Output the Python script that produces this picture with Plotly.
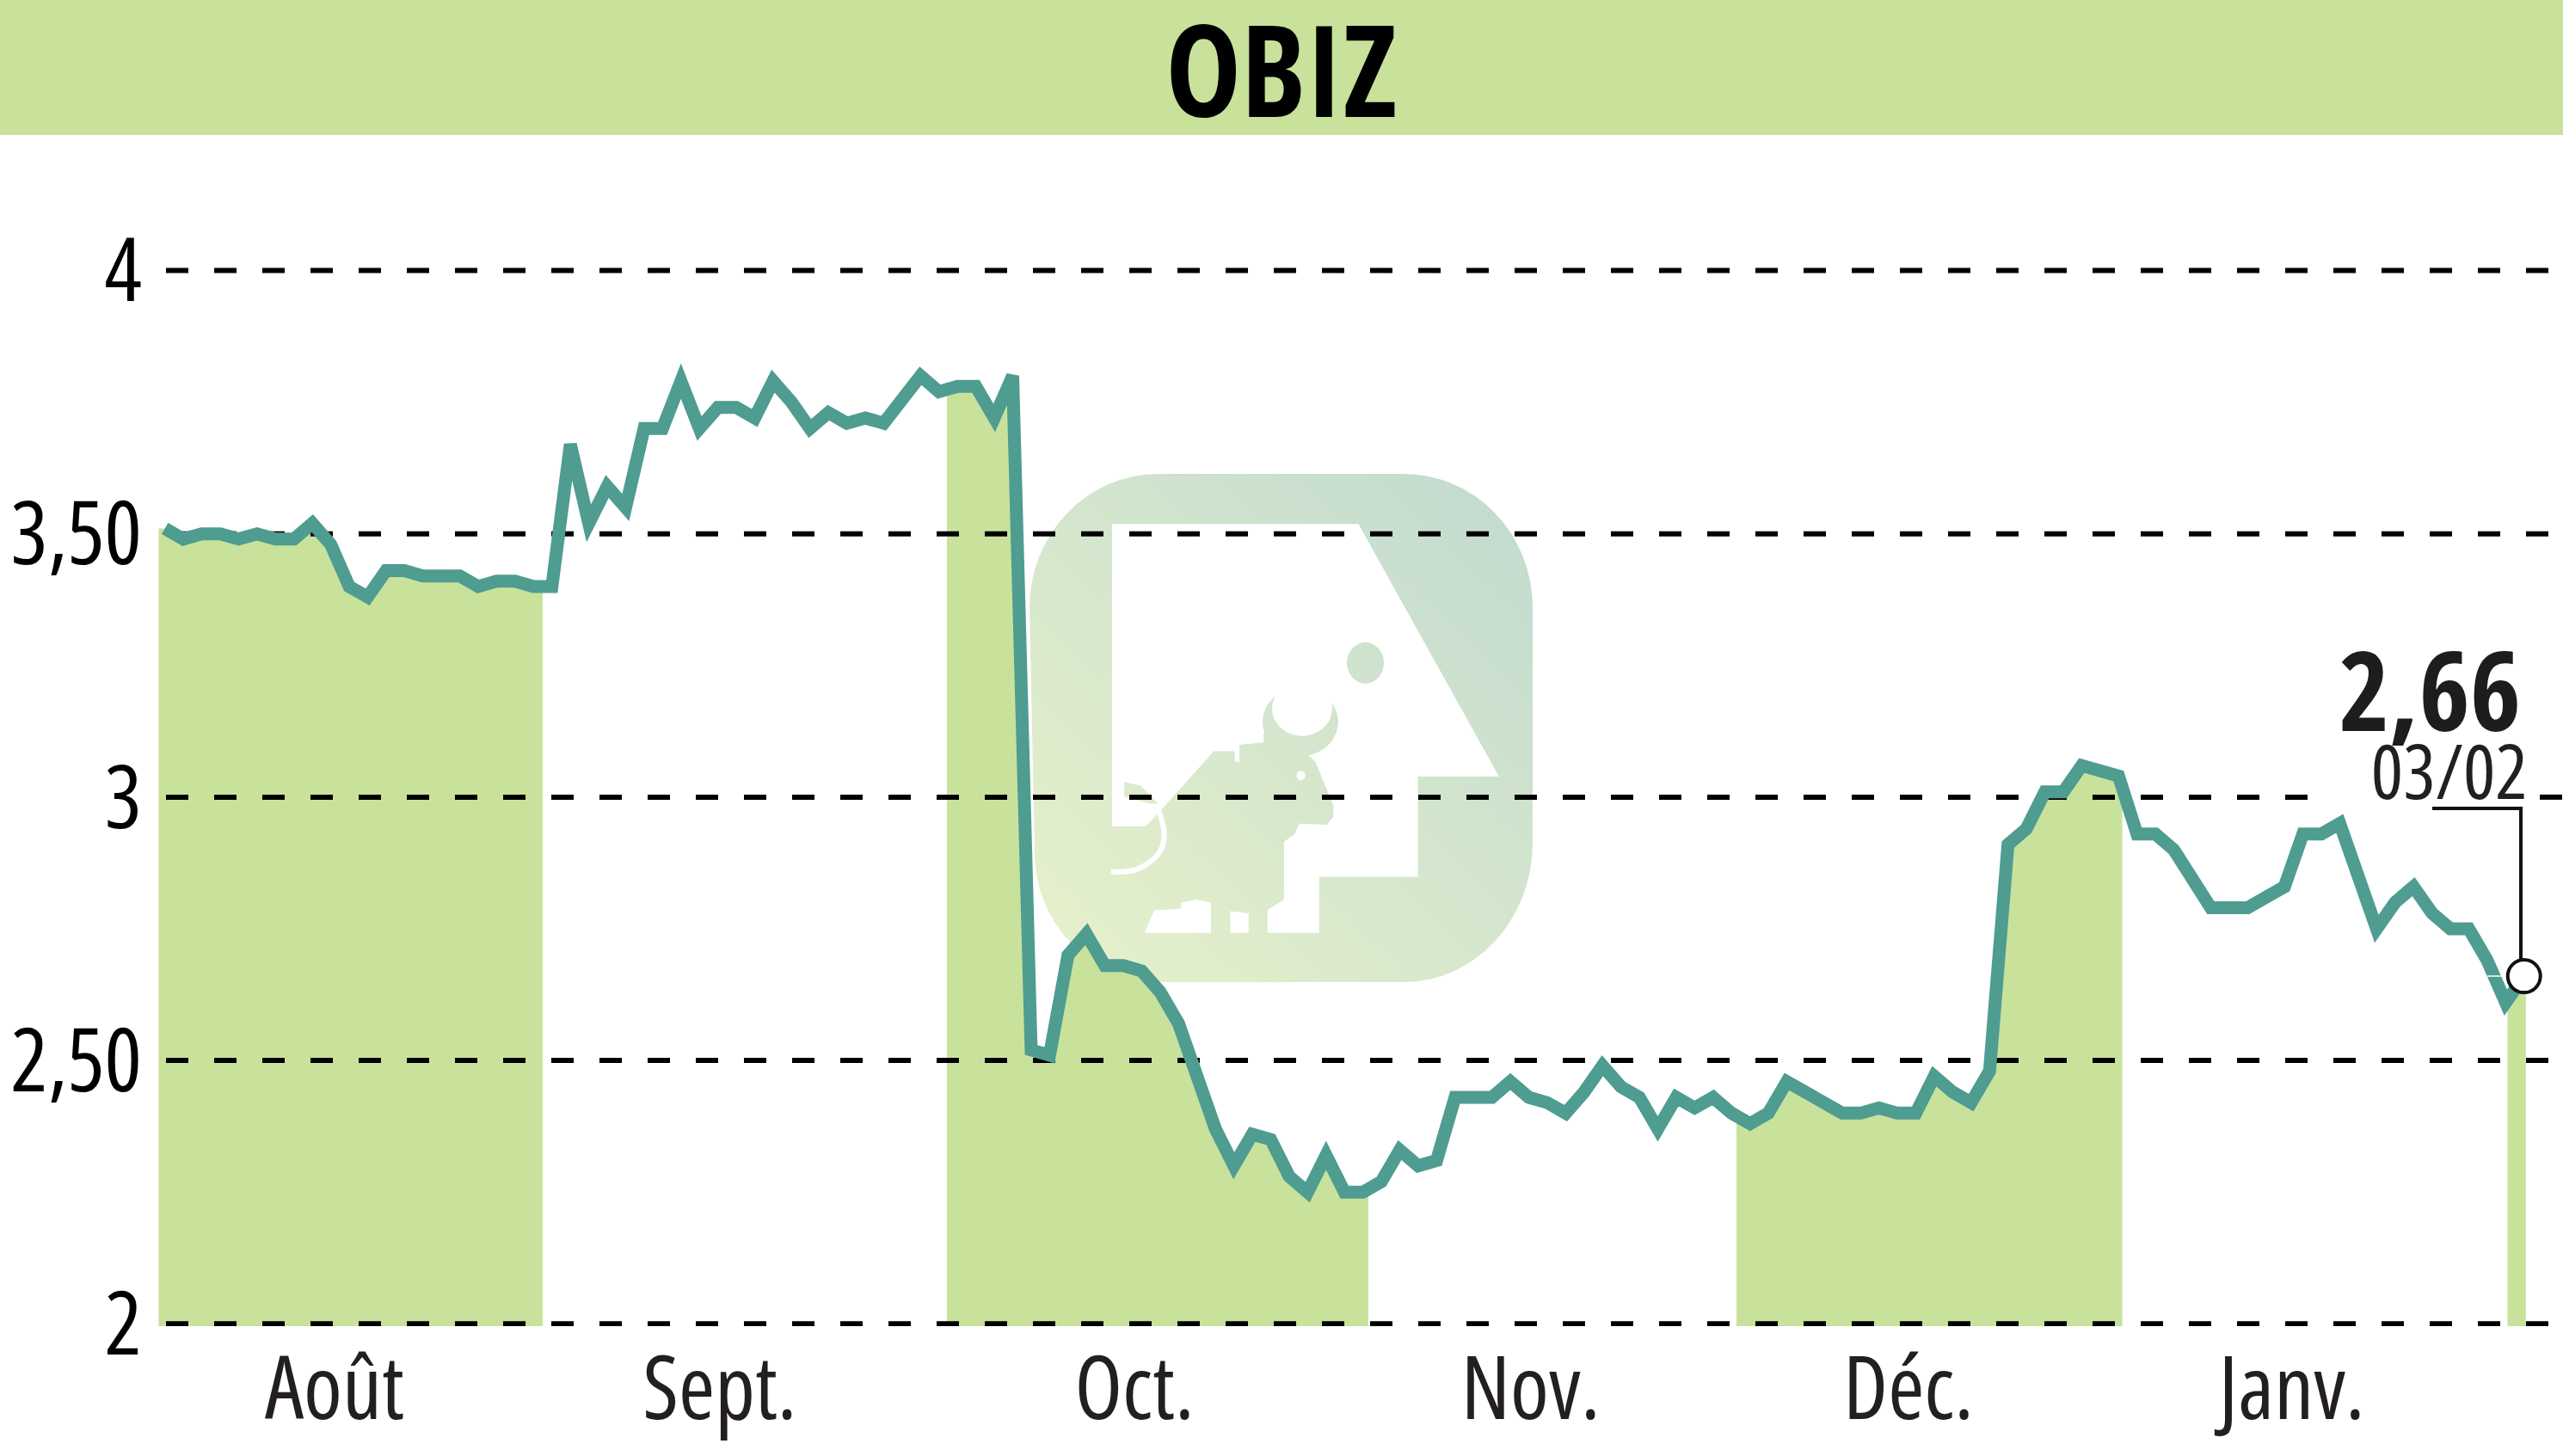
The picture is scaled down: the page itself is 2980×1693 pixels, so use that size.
import base64
import numpy as np
import plotly.graph_objects as go

# ---- data -----------------------------------------------------------------
title_text = "OBIZ"
aout = [3.51, 3.49, 3.50, 3.50, 3.49, 3.50, 3.49, 3.49, 3.52, 3.48, 3.40,
        3.38, 3.43, 3.43, 3.42, 3.42, 3.42, 3.40, 3.41, 3.41, 3.40]
sept = [3.40, 3.67, 3.52, 3.59, 3.55, 3.70, 3.70, 3.79, 3.70, 3.74, 3.74,
        3.72, 3.79, 3.75, 3.70, 3.73, 3.71, 3.72, 3.71, 3.76, 3.80, 3.77]
octo = [3.78, 3.78, 3.72, 3.80, 2.52, 2.51, 2.70, 2.74, 2.68, 2.68, 2.67,
        2.63, 2.57, 2.47, 2.37, 2.30, 2.36, 2.35, 2.28, 2.25, 2.32, 2.25, 2.25]
nov = [2.27, 2.33, 2.30, 2.31, 2.43, 2.43, 2.43, 2.46, 2.43, 2.42, 2.40,
       2.44, 2.49, 2.45, 2.43, 2.37, 2.43, 2.41, 2.43, 2.40]
dec = [2.38, 2.40, 2.46, 2.44, 2.42, 2.40, 2.40, 2.41, 2.40, 2.40, 2.47,
       2.44, 2.42, 2.48, 2.91, 2.94, 3.01, 3.01, 3.06, 3.05, 3.04]
janv = [2.93, 2.93, 2.90, 2.84, 2.79, 2.79, 2.79, 2.81, 2.83, 2.93, 2.93,
        2.95, 2.85, 2.75, 2.80, 2.83, 2.78, 2.75, 2.75, 2.69, 2.61]
fev = [2.66]
month_labels = ["Août", "Sept.", "Oct.", "Nov.", "Déc.", "Janv."]
month_label_pos = [9.2, 30.1, 52.6, 74.1, 94.6, 115.4]
tick_vals = [2, 2.5, 3, 3.5, 4]
tick_text = ["2", "2,50", "3", "3,50", "4"]
last_value_text = "2,66"
last_date_text = "03/02"
band_edges = [(-0.34, 20.5), (42.43, 65.3), (85.27, 106.2), (127.1, 128.1)]

values = aout + sept + octo + nov + dec + janv + fev
index = list(range(len(values)))

# ---- page geometry (pixel <-> data) ----------------------------------------
W, H = 2980, 1693
STEP, X0 = 21.43, 191.7
Y2, PER_UNIT = 1539.3, 612.4
LEFT, BOTTOM = 184, 1542


def dx(px):
    return (px - X0) / STEP


def dy(py):
    return 2 + (Y2 - py) / PER_UNIT


GREEN = "#C8E29C"
TEAL = "#4F9C91"
NARROW = "Open Sans"
NARROW_BOLD = "Open Sans Condensed, Roboto Condensed, Open Sans"

# ---- watermark logo --------------------------------------------------------


def P(X, Y):
    return f"{1150 + X / 2.24:.1f},{520 + Y / 2.376:.1f}"


def poly(points):
    return "M" + " L".join(P(a, b) for a, b in points) + " Z"


main_cut = [(320, 212), (962, 212), (1328, 910), (1117, 910), (1117, 1187),
            (860, 1187), (860, 1342), (725, 1342), (725, 1278), (768, 1250),
            (768, 1090), (795, 1070), (808, 1040), (880, 1043), (897, 1020),
            (897, 990), (850, 870), (825, 845), (720, 815), (652, 822),
            (652, 870), (640, 868), (640, 840), (585, 840), (450, 1000),
            (408, 1047), (320, 1047)]
foot_cut = [(405, 1342), (430, 1280), (500, 1275), (500, 1258), (540, 1250),
            (578, 1258), (578, 1342)]
leg_cut = [(628, 1282), (676, 1288), (676, 1342), (628, 1342)]
tuft = [(352, 925), (395, 935), (440, 985), (420, 985), (385, 975), (352, 965)]

logo = f"""<svg xmlns="http://www.w3.org/2000/svg" width="585" height="591" viewBox="1197 551 585 591">
<defs><linearGradient id="g" gradientUnits="userSpaceOnUse" x1="1230" y1="1120" x2="1750" y2="580">
<stop offset="0" stop-color="#E6F1CB"/><stop offset="1" stop-color="#C3DBCF"/></linearGradient></defs>
<path fill="url(#g)" d="M1347 551 H1632 A150 155 0 0 1 1782 706 V980 A150 162 0 0 1 1632 1142 H1347 A150 150 0 0 1 1203 992 L1197 706 A150 155 0 0 1 1347 551 Z"/>
<path fill="#fff" d="{poly(main_cut)}"/>
<path fill="#fff" d="{poly(foot_cut)}"/>
<path fill="#fff" d="{poly(leg_cut)}"/>
<path fill="url(#g)" d="{poly(tuft)}"/>
<path fill="none" stroke="#fff" stroke-width="6" d="M{P(440, 1000)} Q{P(480, 1100)} {P(420, 1145)} Q{P(380, 1180)} {P(318, 1172)}"/>
<path fill="url(#g)" d="M{P(745, 688)} A44 40 0 1 0 {P(892, 705)} A35 32 0 1 1 {P(745, 688)} Z"/>
<path fill="url(#g)" d="{poly([(715, 790), (830, 800), (830, 850), (715, 825)])}"/>
<ellipse cx="{1150 + 812 / 2.24:.1f}" cy="{520 + 907 / 2.376:.1f}" rx="5" ry="5.5" fill="#fff"/>
<ellipse cx="{1150 + 980 / 2.24:.1f}" cy="{520 + 596 / 2.376:.1f}" rx="21.5" ry="24" fill="url(#g)"/>
</svg>"""
logo_uri = "data:image/svg+xml;base64," + base64.b64encode(logo.encode()).decode()

# ---- figure ----------------------------------------------------------------
fig = go.Figure()

# shaded alternate months, under the dashed levels
for start, stop in band_edges:
    inner = [i for i in index if start < i < stop]
    bx = [start] + inner + [stop]
    by = list(np.interp(bx, index, values))
    fig.add_trace(go.Scatter(x=bx, y=by, mode="lines", fill="tozeroy",
                             fillcolor=GREEN, line=dict(width=0),
                             hoverinfo="skip", showlegend=False))

# dashed levels (the one at 3 is interrupted behind the date label)
for level in tick_vals:
    if level == 3:
        gx = [dx(193), dx(2697), None, dx(2953), dx(W)]
        gy = [level, level, None, level, level]
    else:
        gx = [dx(193), dx(W)]
        gy = [level, level]
    fig.add_trace(go.Scatter(x=gx, y=gy, mode="lines",
                             line=dict(color="#000000", width=6, dash="26px,30px"),
                             hoverinfo="skip", showlegend=False))

# price line
fig.add_trace(go.Scatter(x=index, y=values, mode="lines",
                         line=dict(color=TEAL, width=15, shape="linear"),
                         showlegend=False))

# hairline and leader to the last point
fig.add_trace(go.Scatter(x=[index[-3], index[-1]], y=[values[-1], values[-1]],
                         mode="lines", line=dict(color="#FFFFFF", width=1.5),
                         hoverinfo="skip", showlegend=False))
fig.add_trace(go.Scatter(x=[dx(2828), dx(2931), dx(2931)],
                         y=[dy(940), dy(940), values[-1]], mode="lines",
                         line=dict(color="#111111", width=4),
                         hoverinfo="skip", showlegend=False))
fig.add_trace(go.Scatter(x=[index[-1]], y=[values[-1]], mode="markers",
                         marker=dict(size=38, color="#FFFFFF",
                                     line=dict(color="#111111", width=4)),
                         showlegend=False))

fig.add_annotation(x=dx(2933), y=dy(800), text=f"<b>{last_value_text}</b>",
                   showarrow=False, xanchor="right", yanchor="middle",
                   font=dict(family=NARROW_BOLD, size=128, color="#1D1D1B"))
fig.add_annotation(x=dx(2848), y=dy(895), text=last_date_text,
                   showarrow=False, xanchor="center", yanchor="middle",
                   font=dict(family=NARROW, size=88, color="#231F20"))

fig.add_shape(type="rect", xref="paper", yref="paper",
              x0=-LEFT / (W - LEFT), x1=1, y0=1 - 157 / BOTTOM, y1=1,
              fillcolor=GREEN, line=dict(width=0), layer="below")

fig.add_layout_image(source=logo_uri, xref="x", yref="y", x=dx(1197), y=dy(551),
                     sizex=585 / STEP, sizey=591 / PER_UNIT, sizing="stretch",
                     xanchor="left", yanchor="top", layer="below", opacity=1)

fig.update_layout(
    width=W, height=H, autosize=False,
    margin=dict(l=LEFT, r=0, t=0, b=H - BOTTOM, pad=0),
    paper_bgcolor="#FFFFFF", plot_bgcolor="rgba(0,0,0,0)",
    showlegend=False, hovermode=False,
    title=dict(text=f"<b>{title_text}</b>", x=0.5, xref="container", xanchor="center",
               y=1 - 85 / H, yref="container", yanchor="middle", automargin=False,
               font=dict(family=NARROW_BOLD, size=147, color="#000000")),
    xaxis=dict(range=[dx(LEFT), dx(W)], showgrid=False, zeroline=False, showline=False,
               tickmode="array", tickvals=month_label_pos, ticktext=month_labels,
               ticks="", ticklabelstandoff=5, automargin=False,
               tickfont=dict(family=NARROW, size=102, color="#231F20")),
    yaxis=dict(range=[dy(BOTTOM), dy(0)], showgrid=False, zeroline=False, showline=False,
               tickmode="array", tickvals=tick_vals, ticktext=tick_text,
               ticks="", ticklabelstandoff=18, automargin=False,
               tickfont=dict(family=NARROW, size=102, color="#000000")),
)

condense = """
document.body.style.margin='0';
var s=document.createElement('style');
s.textContent='.xtick text,.ytick text,.annotation-text{font-stretch:75%}'
 +'.scatterlayer .js-line{stroke-linejoin:miter !important;stroke-miterlimit:3 !important}';
document.head.appendChild(s);
"""
fig.write_html("out.html", config={"displayModeBar": False}, post_script=condense)
